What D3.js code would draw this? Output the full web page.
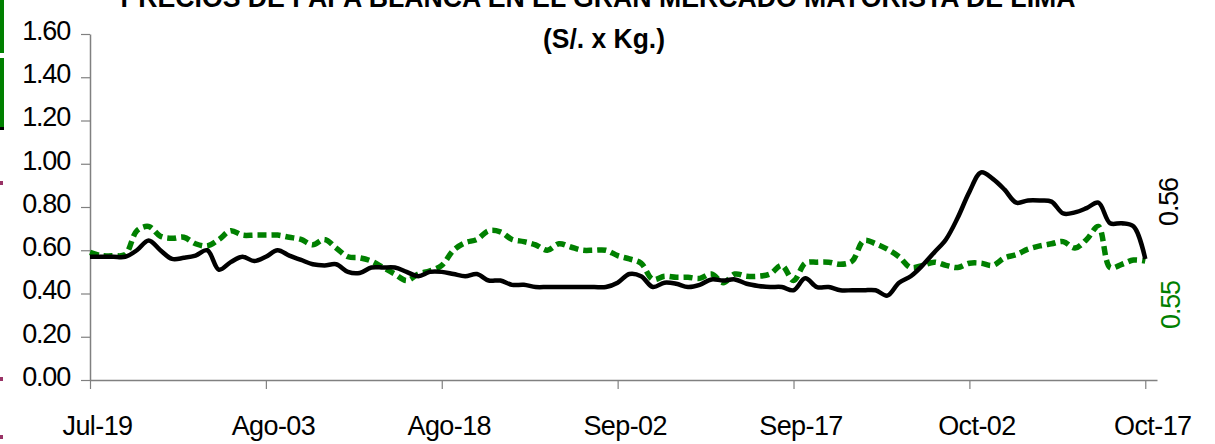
<!DOCTYPE html>
<html>
<head>
<meta charset="utf-8">
<script src="https://cdn.jsdelivr.net/npm/d3@7"></script>
<style>
  body { margin: 0; background: #fff; }
  svg { display: block; font-family: "Liberation Sans", Arial, sans-serif; }
</style>
</head>
<body>
<svg id="chart" width="1215" height="444"></svg>
<script>
// dias desde Jul-19 (0) hasta Oct-17 (90)
var tickDays = [0, 15, 30, 45, 60, 75, 90];
var tickLabels = ["Jul-19", "Ago-03", "Ago-18", "Sep-02", "Sep-17", "Oct-02", "Oct-17"];
var yTicks = [0, 0.2, 0.4, 0.6, 0.8, 1.0, 1.2, 1.4, 1.6];

// serie negra (precio promedio)
var blackValues = [
  0.57, 0.57, 0.57, 0.57, 0.60, 0.645, 0.60, 0.56, 0.565, 0.575,
  0.60, 0.51, 0.545, 0.57, 0.55, 0.57, 0.60, 0.575, 0.555, 0.535,
  0.53, 0.535, 0.50, 0.495, 0.52, 0.52, 0.52, 0.50, 0.48, 0.50,
  0.50, 0.49, 0.48, 0.49, 0.46, 0.46, 0.44, 0.44, 0.43, 0.43,
  0.43, 0.43, 0.43, 0.43, 0.43, 0.45, 0.49, 0.48, 0.43, 0.45,
  0.445, 0.43, 0.44, 0.465, 0.46, 0.465, 0.445, 0.435, 0.43, 0.43,
  0.415, 0.47, 0.43, 0.43, 0.415, 0.415, 0.415, 0.415, 0.39, 0.45,
  0.48, 0.53, 0.59, 0.65, 0.75, 0.87, 0.96, 0.93, 0.88, 0.82,
  0.83, 0.83, 0.825, 0.77, 0.775, 0.795, 0.82, 0.725, 0.725, 0.71,
  0.56
];

// serie verde (punteada)
var greenValues = [
  0.59, 0.575, 0.575, 0.58, 0.69, 0.71, 0.665, 0.655, 0.66, 0.63,
  0.62, 0.65, 0.69, 0.67, 0.67, 0.67, 0.67, 0.66, 0.65, 0.625,
  0.65, 0.61, 0.57, 0.565, 0.55, 0.52, 0.49, 0.46, 0.49, 0.505,
  0.53, 0.60, 0.635, 0.65, 0.69, 0.685, 0.65, 0.64, 0.625, 0.60,
  0.63, 0.615, 0.60, 0.60, 0.60, 0.575, 0.56, 0.54, 0.465, 0.48,
  0.475, 0.475, 0.47, 0.49, 0.45, 0.49, 0.48, 0.48, 0.49, 0.53,
  0.46, 0.54, 0.545, 0.545, 0.535, 0.55, 0.645, 0.63, 0.605, 0.57,
  0.52, 0.53, 0.545, 0.53, 0.52, 0.54, 0.54, 0.53, 0.565, 0.58,
  0.605, 0.62, 0.63, 0.64, 0.61, 0.65, 0.71, 0.52, 0.535, 0.555,
  0.55
];

var lastLabels = ["0.56", "0.55"];

var svg = d3.select("#chart");

var x = d3.scaleLinear().domain([0, 91]).range([90, 1157]);
var y = d3.scaleLinear().domain([0, 1.6]).range([380, 34]);

//restos de bordes a la izquierda
svg.append("rect").attr("x", 0).attr("y", 0).attr("width", 4).attr("height", 53).attr("fill", "#008000");
svg.append("rect").attr("x", 0).attr("y", 58).attr("width", 4).attr("height", 69).attr("fill", "#008000");
svg.append("rect").attr("x", 0).attr("y", 127).attr("width", 4).attr("height", 3).attr("fill", "#000");
[181, 377, 435].forEach(function (py) {
  svg.append("rect").attr("x", 0).attr("y", py).attr("width", 3).attr("height", 4).attr("fill", "#993366");
});

//titulo (cortado arriba, como en el original)
svg.append("text")
  .attr("x", 598)
  .attr("y", 7)
  .attr("text-anchor", "middle")
  .attr("textLength", 955)
  .attr("lengthAdjust", "spacingAndGlyphs")
  .style("font-weight", "bold")
  .style("font-size", "27px")
  .text("PRECIOS DE PAPA BLANCA EN EL GRAN MERCADO MAYORISTA DE LIMA");
svg.append("text")
  .attr("x", 604)
  .attr("y", 48)
  .attr("text-anchor", "middle")
  .attr("textLength", 122)
  .attr("lengthAdjust", "spacingAndGlyphs")
  .style("font-weight", "bold")
  .style("font-size", "27px")
  .text("(S/. x Kg.)");

//eje Y
var yAxis = svg.append("g")
  .attr("transform", "translate(90,0)")
  .call(d3.axisLeft(y).tickValues(yTicks).tickSize(9).tickSizeOuter(0).tickFormat(d3.format(".2f")));
yAxis.select(".domain").attr("stroke", "#808080").attr("stroke-width", 1.5);
yAxis.selectAll(".tick line").attr("stroke", "#808080").attr("stroke-width", 1.2);
yAxis.selectAll(".tick text")
  .attr("x", -20)
  .attr("dy", "0.2em")
  .style("font-size", "27px")
  .style("letter-spacing", "-1.2px")
  .attr("fill", "#000");

//eje X
var xAxis = svg.append("g")
  .attr("transform", "translate(0,380)")
  .call(d3.axisBottom(x).tickValues(tickDays).tickSize(9).tickSizeOuter(0)
    .tickFormat(function (d, i) { return tickLabels[i]; }));
xAxis.select(".domain").attr("stroke", "#808080").attr("stroke-width", 1.5);
xAxis.selectAll(".tick line").attr("stroke", "#808080").attr("stroke-width", 1.2);
xAxis.selectAll(".tick text")
  .attr("y", 55)
  .attr("dy", 0)
  .attr("dx", 7)
  .style("font-size", "27px")
  .style("letter-spacing", "-0.6px")
  .attr("fill", "#000");

//lineas
var line = d3.line()
  .x(function (d, i) { return x(i); })
  .y(function (d) { return y(d); })
  .curve(d3.curveCatmullRom.alpha(0.5));

svg.append("path")
  .datum(greenValues)
  .attr("d", line)
  .attr("fill", "none")
  .attr("stroke", "#008000")
  .attr("stroke-width", 5.5)
  .attr("stroke-dasharray", "9,5");

svg.append("path")
  .datum(blackValues)
  .attr("d", line)
  .attr("fill", "none")
  .attr("stroke", "#000")
  .attr("stroke-width", 4.5)
  .attr("stroke-linejoin", "round");

//ultimos valores (vertical)
svg.append("text")
  .attr("transform", "translate(1178,202) rotate(-90)")
  .attr("text-anchor", "middle")
  .style("font-size", "27px")
  .style("letter-spacing", "-1.2px")
  .attr("fill", "#000")
  .text(lastLabels[0]);
svg.append("text")
  .attr("transform", "translate(1180,305) rotate(-90)")
  .attr("text-anchor", "middle")
  .style("font-size", "27px")
  .style("letter-spacing", "-1.2px")
  .attr("fill", "#008000")
  .text(lastLabels[1]);
</script>
</body>
</html>
